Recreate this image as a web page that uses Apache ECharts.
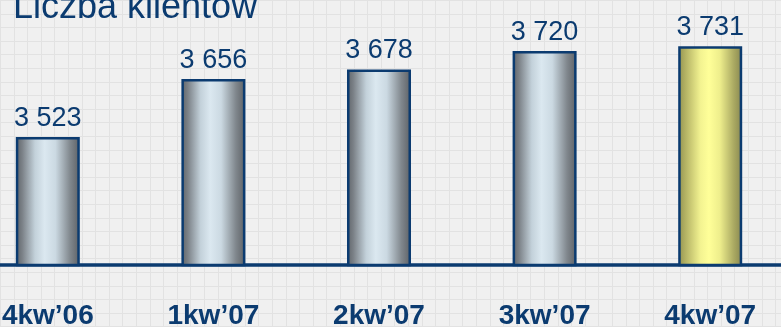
<!DOCTYPE html>
<html>
<head>
<meta charset="utf-8">
<script src="https://cdn.jsdelivr.net/npm/echarts@6/dist/echarts.min.js"></script>
<style>
  html, body { margin: 0; padding: 0; }
  body {
    width: 781px; height: 327px; overflow: hidden;
    background-color: #f0f0f0;
    background-image:
      repeating-linear-gradient(to right, #e2e2e2 0, #e2e2e2 1px, transparent 1px, transparent 13.6px),
      repeating-linear-gradient(to bottom, #e2e2e2 0, #e2e2e2 1px, transparent 1px, transparent 13.6px);
  }
  #chart { width: 781px; height: 327px; }
</style>
</head>
<body>
<div id="chart"></div>
<script>
// Liczba klientów per quarter
const quarters = ["4kw\u201906", "1kw\u201907", "2kw\u201907", "3kw\u201907", "4kw\u201907"];
const clients = [3523, 3656, 3678, 3720, 3731];

const navy = '#0b3b70';

const silverFill = new echarts.graphic.LinearGradient(0, 0, 1, 0, [
  { offset: 0, color: '#5e6368' },
  { offset: 0.1, color: '#7b8187' },
  { offset: 0.3, color: '#c3d1da' },
  { offset: 0.45, color: '#dbe8f0' },
  { offset: 0.62, color: '#cbd9e2' },
  { offset: 0.85, color: '#80878d' },
  { offset: 1, color: '#5c6065' }
]);
const yellowFill = new echarts.graphic.LinearGradient(0, 0, 1, 0, [
  { offset: 0, color: '#929150' },
  { offset: 0.12, color: '#b5b465' },
  { offset: 0.35, color: '#f3f391' },
  { offset: 0.48, color: '#ffff99' },
  { offset: 0.65, color: '#eeee8c' },
  { offset: 0.87, color: '#aaa962' },
  { offset: 1, color: '#878650' }
]);

const fmt = v => String(v).replace(/\B(?=(\d{3})+(?!\d))/g, ' ');

const chart = echarts.init(document.getElementById('chart'), null, { renderer: 'canvas' });
chart.setOption({
  backgroundColor: 'transparent',
  animation: false,
  title: {
    text: 'Liczba klientów',
    left: 8,
    top: -15,
    textStyle: { fontFamily: 'Liberation Sans, Arial, sans-serif', fontSize: 36, fontWeight: 'normal', color: navy }
  },
  grid: { left: -35, right: -12, top: 38, bottom: 62, outerBoundsMode: 'none', containLabel: false },
  xAxis: {
    type: 'category',
    data: quarters,
    axisTick: { show: false },
    axisLine: { show: true, lineStyle: { color: navy, width: 3.5 } },
    axisLabel: {
      margin: 37,
      fontFamily: 'Liberation Sans, Arial, sans-serif',
      fontSize: 28,
      fontWeight: 'bold',
      color: navy
    }
  },
  yAxis: {
    type: 'value',
    min: 3230,
    max: 3750,
    show: false,
    splitLine: { show: false }
  },
  series: [{
    type: 'bar',
    data: clients.map((v, i) => ({
      value: v,
      itemStyle: { color: i === clients.length - 1 ? yellowFill : silverFill }
    })),
    barWidth: 64,
    itemStyle: { borderColor: navy, borderWidth: 2.5 },
    label: {
      show: true,
      position: 'top',
      distance: 5,
      formatter: p => fmt(p.value),
      fontFamily: 'Liberation Sans, Arial, sans-serif',
      fontSize: 27,
      color: navy
    }
  }]
});
</script>
</body>
</html>
